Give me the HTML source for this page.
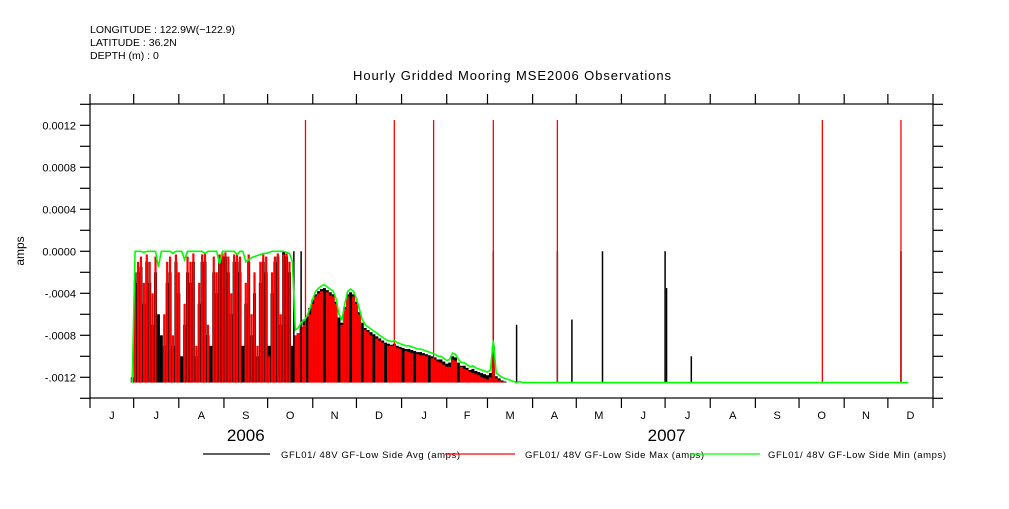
<!DOCTYPE html>
<html><head><meta charset="utf-8"><style>
body{margin:0;background:#fff;width:1009px;height:504px;overflow:hidden}
svg text{font-family:"Liberation Sans",sans-serif}
</style></head><body>
<svg id="chart" width="1009" height="504" viewBox="0 0 1009 504" xmlns="http://www.w3.org/2000/svg">
<g font-size="10.5" fill="#000">
<text x="90" y="33" textLength="145">LONGITUDE : 122.9W(−122.9)</text>
<text x="90" y="46">LATITUDE : 36.2N</text>
<text x="90" y="59">DEPTH (m) : 0</text>
</g>
<text x="353" y="80" textLength="318" font-size="13">Hourly Gridded Mooring MSE2006 Observations</text>
<text transform="translate(24,251) rotate(-90)" text-anchor="middle" font-size="12">amps</text>
<g id="marks"></g>
<g id="axes" stroke="#000" stroke-width="1.2"></g>
<g font-size="9.5">
<line x1="203" y1="454" x2="270" y2="454" stroke="#000" stroke-width="1.2"/>
<text x="281" y="458" textLength="179">GFL01/ 48V GF-Low Side Avg (amps)</text>
<line x1="445" y1="454" x2="515" y2="454" stroke="#f00" stroke-width="1.2"/>
<text x="525" y="458" textLength="179">GFL01/ 48V GF-Low Side Max (amps)</text>
<line x1="690" y1="454" x2="760" y2="454" stroke="#0f0" stroke-width="1.2"/>
<text x="768" y="458" textLength="178">GFL01/ 48V GF-Low Side Min (amps)</text>
</g>
</svg>
<script>
// values in units of 1e-4 amps, sampled every 2 days starting day 29 after 2006-06-01
const startDay = 29;
const stepDays = 2;
const floorValue = -12.5;
const tailEndDay = 562;
const maxSeries = [-12,-2,-1,-0.5,-3,-0.3,-1,-4,-0.5,-12.5,-12.5,-6,-1,-0.5,-8,-0.3,-2,-12.5,-5,-0.5,-1,-0.2,-9,-3,-0.3,-0.2,-7,-12.5,-0.5,-2,-0.3,-0.2,-0.1,-0.5,-4,-0.3,-0.2,-0.5,-12.5,-3,-0.3,-6,-2,-9,-1,
-0.3,-0.5,-10,-2,-0.5,-0.2,-6,-0.3,-0.2,-1,
-12.5,-8,-7.8,-7.2,-7,-12.5,
-6,-5,-4.3,-4,-3.8,-12.5,-3.9,-4.2,-4.3,-5,-12.5,-7,-5.5,-4.3,-12.5,
-4.3,-5,-6,-12.5,-7.5,-7.7,-8,-12.5,-8.3,-8.5,-8.7,-12.5,-9,-9,-9,
-9.2,-9.3,-12.5,-9.5,-9.6,-9.7,-12.5,-9.8,-9.9,-9.9,-10,-12.5,-10.2,-10.3,-10.5,
-10.6,-10.8,-11,-11,-10.3,-10.4,-12.5,-11,-11.2,-11.3,-11.5,-11.6,-11.7,-11.8,-12,
-12.1,-12.2,-12,-9.5,-12.1,-12.3,-12.4,-12.5,-12.5,-12.5,-12.5,-12.5,-12.5,-12.5,-12.5,-12.5,-12.5,-12.5,-12.5];
const avgSeries = [-12,-3,-2,-1.5,-5,-1,-3,-7,-2,-6,-8,-9,-3,-2,-9,-1,-4,-10,-7,-2,-3,-1,-10,-5,-1,-1,-8,-9,-2,-4,-1,-0.5,-0.5,-2,-6,-1,-1,-2,-9,-5,-1,-8,-4,-10,-3,
-1,-2,-9,-4,-1,-0.5,-7,0,-0.5,-2,
-9,-11,-7.8,-7.3,-6.5,-6.2,
-5.4,-4.6,-4.1,-3.8,-3.6,-3.5,-3.7,-3.9,-4.1,-4.8,-6.3,-6.8,-5.3,-4.1,-3.9,
-4.1,-4.8,-5.8,-6.8,-7.3,-7.5,-7.7,-7.9,-8.1,-8.3,-8.5,-8.7,-8.8,-8.9,-8.8,
-9,-9.1,-9.2,-9.3,-9.3,-9.4,-9.5,-9.6,-9.6,-9.7,-9.8,-9.9,-10,-10.1,-10.3,
-10.3,-10.5,-10.7,-10.6,-10,-10.1,-10.6,-10.9,-10.9,-11.1,-11.3,-11.2,-11.4,-11.5,-11.6,
-11.7,-11.8,-11.6,-9,-11.9,-12.1,-12.3,-12.4,-12.5,-12.5,-12.5,-12.5,-12.5,-12.5,-12.5,-12.5,-12.5,-12.5,-12.5];
const minSeries = [-12.5,0,0,0,-0.1,0,0,0,0,-1.5,0,0,0,0,-0.2,0,0,0,-0.8,0,0,0,0,0,0,-0.2,0,0,0,0,-1.2,0,0,0,0,0,-0.3,0,0,-1,-0.8,-0.6,-0.5,-0.4,-0.3,
-0.2,-0.2,-0.1,0,0,0,0,0,-0.1,-0.2,
-1,-7.5,-7.3,-6.8,-6.6,-6.2,
-5.5,-4.5,-3.8,-3.5,-3.3,-3.2,-3.4,-3.6,-3.8,-4.5,-6,-6.5,-5,-3.8,-3.6,
-3.8,-4.5,-5.5,-6.5,-7,-7.2,-7.4,-7.6,-7.8,-8,-8.2,-8.4,-8.5,-8.6,-8.5,
-8.7,-8.8,-8.9,-9,-9,-9.1,-9.2,-9.3,-9.3,-9.4,-9.5,-9.6,-9.7,-9.8,-10,
-10,-10.2,-10.4,-10.3,-9.7,-9.8,-10.3,-10.6,-10.6,-10.8,-11,-10.9,-11.1,-11.2,-11.3,
-11.4,-11.5,-11.3,-8.5,-11.6,-11.8,-12,-12.1,-12.2,-12.3,-12.4,-12.5,-12.4,-12.5,-12.5,-12.5,-12.5,-12.5,-12.5];
const redSpikeDays = [148,209,236,277,321,503,557];
const redSpikeValues = [12.5,12.5,12.5,12.5,12.5,12.5,12.5];
const blackSpikeDays = [140,145,277,293,321,331,352,395,396,413,557];
const blackSpikeValues = [0,0,0,-7,0,-6.5,0,0,-3.5,-10,0];
const yTickValues = [-12,-8,-4,0,4,8,12];
const yTickLabels = ["-.0012","-.0008","-.0004","0.0000","0.0004","0.0008","0.0012"];
const monthLabels = ["J","J","A","S","O","N","D","J","F","M","A","M","J","J","A","S","O","N","D"];
const monthDays = [30,31,31,30,31,30,31,31,28,31,30,31,30,31,31,30,31,30,31];
const yearLabels = ["2006","2007"];
const yearMidDays = [107,396];

const NS="http://www.w3.org/2000/svg";
const PX0=90, PX1=933, PY0=104, PY1=398;
const totalDays = monthDays.reduce((a,b)=>a+b,0);
function x(day){return PX0+day*(PX1-PX0)/totalDays;}
function y(v){return 251.3 - v*10.5;}
function mk(tag,attrs,parent){const e=document.createElementNS(NS,tag);for(const k in attrs)e.setAttribute(k,attrs[k]);parent.appendChild(e);return e;}
const marks=document.getElementById('marks');
const axes=document.getElementById('axes');
function dayOf(i){return startDay+i*stepDays;}
avgSeries.forEach((v,i)=>{
  const r=mk('rect',{x:x(dayOf(i))-1.5,y:y(v),width:3,height:Math.max(0,y(floorValue)-y(v)),fill:'#000'},marks);
  
  
});
maxSeries.forEach((v,i)=>{
  const w = i<55 ? 2.2 : 3;
  const r=mk('rect',{x:x(dayOf(i))-w/2,y:y(v),width:w,height:Math.max(0,y(floorValue)-y(v)),fill:'#f00'},marks);
  
  
});
blackSpikeDays.forEach((d,i)=>{
  const l=mk('line',{x1:x(d),x2:x(d),y1:y(blackSpikeValues[i]),y2:y(floorValue),stroke:'#000','stroke-width':1.5},marks);
  
  
});
redSpikeDays.forEach((d,i)=>{
  const l=mk('line',{x1:x(d),x2:x(d),y1:y(redSpikeValues[i]),y2:y(floorValue),stroke:'#f00','stroke-width':1.3},marks);
  
  
});
let pts=minSeries.map((v,i)=>x(dayOf(i)).toFixed(1)+','+y(v).toFixed(1));
pts.push(x(tailEndDay).toFixed(1)+','+y(floorValue).toFixed(1));
const pl=mk('polyline',{points:pts.join(' '),fill:'none',stroke:'#0f0','stroke-width':1.6},marks);


const fr=mk('rect',{x:PX0,y:PY0,width:PX1-PX0,height:PY1-PY0,fill:'none'},axes);


for(let v=-14;v<=14;v+=2){
  mk('line',{x1:PX0-10,x2:PX0,y1:y(v),y2:y(v)},axes);
  mk('line',{x1:PX1,x2:PX1+10,y1:y(v),y2:y(v)},axes);
}
yTickValues.forEach((v,i)=>{
  const t=mk('text',{x:76,y:y(v)+4,'text-anchor':'end','font-size':11,stroke:'none',fill:'#000'},axes);
  t.textContent=yTickLabels[i];
  
  
});
let d=0;
monthLabels.forEach((m,i)=>{
  mk('line',{x1:x(d),x2:x(d),y1:PY0-10,y2:PY0},axes);
  mk('line',{x1:x(d),x2:x(d),y1:PY1,y2:PY1+10},axes);
  const t=mk('text',{x:x(d+monthDays[i]/2),y:419,'text-anchor':'middle','font-size':11,stroke:'none',fill:'#000'},axes);
  t.textContent=m;
  
  
  d+=monthDays[i];
});
mk('line',{x1:x(d),x2:x(d),y1:PY0-10,y2:PY0},axes);
mk('line',{x1:x(d),x2:x(d),y1:PY1,y2:PY1+10},axes);
yearLabels.forEach((yl,i)=>{
  const t=mk('text',{x:x(yearMidDays[i]),y:441,'text-anchor':'middle','font-size':17,stroke:'none',fill:'#000'},axes);
  t.textContent=yl;
  
  
});
</script>
</body></html>
